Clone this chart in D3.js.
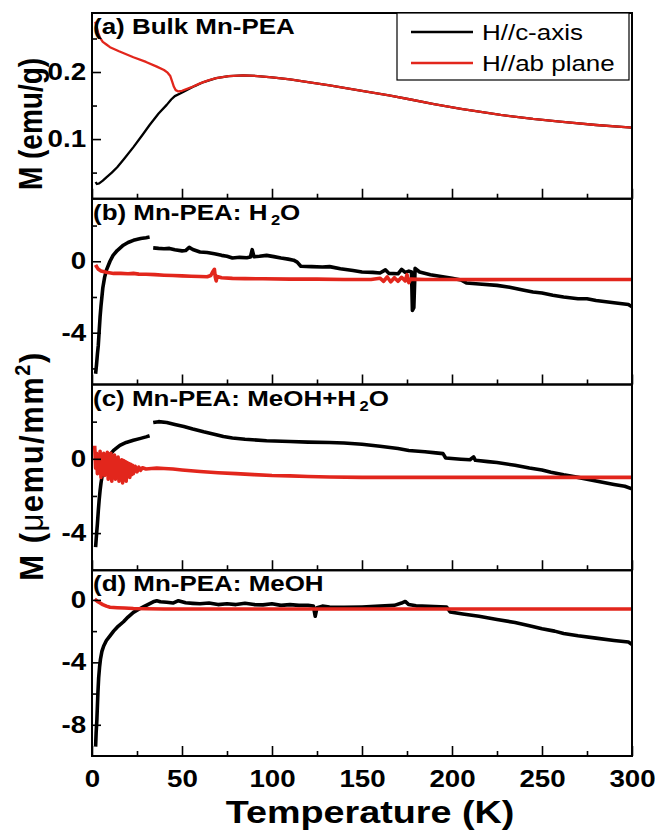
<!DOCTYPE html>
<html>
<head>
<meta charset="utf-8">
<script src="https://cdn.jsdelivr.net/npm/d3@7"></script>
<style>
  body { margin: 0; background: #fff; }
  svg { display: block; font-family: "Liberation Sans", Arial, sans-serif; }
</style>
</head>
<body>
<svg id="chart" width="655" height="836"></svg>
<script>
// ---- data: [T (K), M] ----
const bulkC = [[2,0.036],[2.7,0.033],[4,0.034],[6,0.038],[8,0.043],[11,0.050],[14,0.058],[18,0.071],[23,0.088],[28,0.106],[32,0.121],[37,0.138],[41.5,0.151],[44,0.159],[46,0.164],[49,0.168],[52.5,0.173],[57,0.179],[62,0.185],[69,0.191],[76,0.194],[84,0.195],[92,0.194],[100,0.192],[110,0.189],[120,0.185],[132,0.180],[150,0.172],[165,0.165],[177,0.159],[190,0.152],[205,0.145],[227,0.136],[245,0.130],[260,0.126],[280,0.121],[300,0.117]];
const bulkAB = [[1.8,0.275],[2.5,0.268],[3.5,0.258],[4.5,0.251],[6,0.245],[8,0.241],[10,0.237],[15,0.231],[23,0.222],[30,0.215],[36,0.208],[40,0.203],[42,0.199],[43.5,0.194],[44.5,0.186],[45.5,0.178],[46.5,0.173],[48,0.171],[50,0.172],[55,0.177],[60,0.183],[65,0.188],[69,0.191],[76,0.194],[84,0.195],[92,0.194],[100,0.192],[110,0.189],[120,0.185],[132,0.180],[150,0.172],[165,0.165],[177,0.159],[190,0.152],[205,0.145],[227,0.136],[245,0.130],[260,0.126],[280,0.121],[300,0.117]];

const h2oC = [[2,-6.3],[2.5,-5.8],[3,-5.2],[3.5,-4.7],[4,-3.9],[4.5,-3.1],[5,-2.5],[6,-1.5],[7,-0.9],[8,-0.5],[10,0.0],[11.7,0.33],[14,0.6],[17.4,0.9],[20,1.05],[23,1.17],[27,1.27],[30,1.32],[32,1.36],[33,null],
  [34,0.75],[37,0.72],[40,0.70],[43,0.72],[46,0.64],[50,0.58],[52,0.6],[54,0.78],[56,0.66],[60,0.52],[64,0.49],[68,0.42],[72,0.33],[75,0.28],[78,0.18],[82,0.22],[86,0.20],[88,0.24],[89,0.65],[90,0.25],[93,0.28],[97,0.33],[101,0.26],[105,0.18],[109,0.12],[112,0.06],[114,-0.05],[116,-0.28],[122,-0.3],[128,-0.32],[132,-0.30],[138,-0.42],[145,-0.52],[150,-0.6],[156,-0.62],[160,-0.66],[163,-0.48],[165,-0.68],[170,-0.7],[172,-0.45],[174,-0.62],[176,-0.55],[177.5,-0.6],[178,-2.75],[178.8,-2.6],[179.5,-0.4],[182,-0.6],[188,-0.75],[194,-0.85],[200,-0.95],[205,-1.05],[208,-1.22],[215,-1.27],[225,-1.35],[232,-1.45],[240,-1.62],[245,-1.72],[250,-1.78],[256,-1.9],[262,-2.0],[270,-2.1],[275,-2.1],[280,-2.2],[290,-2.32],[298,-2.42],[300,-2.55]];
const h2oAB = [[2,-0.2],[2.5,-0.3],[3.5,-0.45],[5,-0.55],[8,-0.62],[12,-0.68],[16,-0.68],[20,-0.7],[23,-0.68],[26,-0.72],[30,-0.73],[35,-0.75],[40,-0.78],[45,-0.8],[50,-0.82],[55,-0.84],[60,-0.85],[64,-0.87],[66,-0.8],[67,-0.6],[68,-0.45],[68.5,-0.9],[69,-1.1],[69.5,-0.85],[72,-0.92],[78,-0.96],[85,-0.97],[95,-0.98],[110,-1.0],[125,-1.0],[140,-1.02],[155,-1.02],[160,-0.95],[162,-1.12],[164,-0.88],[166,-1.15],[168,-0.92],[170,-1.12],[172,-0.9],[174,-1.1],[175,-0.75],[176,-1.2],[177,-1.0],[185,-1.02],[200,-1.02],[220,-1.03],[240,-1.02],[260,-1.02],[280,-1.02],[300,-1.02]];

const mixC = [[2,-4.75],[2.5,-4.1],[3,-3.5],[3.5,-2.8],[4,-2.2],[4.5,-1.7],[5,-1.3],[6,-0.7],[7,-0.35],[8,-0.1],[10,0.22],[12,0.45],[15.5,0.72],[19,0.88],[23,1.0],[27,1.1],[30,1.18],[32,1.24],[33,null],
  [34,1.95],[37,2.0],[41.5,1.95],[46,1.85],[51,1.74],[56,1.6],[62,1.45],[69,1.3],[73,1.2],[78,1.12],[85,1.05],[97,0.97],[110,0.93],[120,0.9],[132,0.88],[140,0.85],[150,0.78],[160,0.68],[170,0.55],[176,0.45],[185,0.38],[191,0.32],[195,0.28],[196.5,0.04],[205,-0.02],[210,-0.05],[212,0.1],[213,-0.08],[220,-0.15],[225,-0.2],[235,-0.35],[243,-0.5],[250,-0.6],[255,-0.72],[262,-0.86],[270,-1.0],[280,-1.2],[290,-1.38],[296,-1.48],[300,-1.62]];
const mixAB = [[1.5,0.7],[2,-0.5],[2.5,0.3],[3,-0.8],[3.5,0.2],[4,-0.6],[4.5,0.4],[5,-1.0],[5.5,0.1],[6,-0.7],[6.5,0.3],[7,-0.9],[7.5,0.2],[8,-0.8],[8.5,0.35],[9,-1.1],[9.5,0.15],[10,-0.75],[10.5,0.3],[11,-1.2],[11.5,0.1],[12,-0.9],[12.5,0.2],[13,-1.1],[13.5,0.0],[14,-1.0],[14.5,0.1],[15,-1.2],[15.5,-0.1],[16,-1.0],[16.5,-0.05],[17,-1.3],[17.5,-0.1],[18,-1.1],[18.5,-0.15],[19,-1.2],[19.5,-0.2],[20,-0.95],[20.5,-0.25],[21,-1.0],[21.5,-0.3],[22,-0.85],[22.5,-0.35],[23,-0.8],[24,-0.4],[25,-0.7],[26,-0.45],[27,-0.62],[28,-0.48],[30,-0.55],[33,-0.52],[36,-0.5],[40,-0.52],[45,-0.55],[50,-0.6],[60,-0.68],[70,-0.75],[80,-0.8],[90,-0.85],[100,-0.9],[110,-0.92],[120,-0.95],[132,-0.98],[150,-1.0],[200,-1.0],[250,-1.0],[300,-1.0]];

const meohC = [[2,-9.4],[2.3,-8.5],[2.7,-7.7],[3,-6.8],[3.3,-5.9],[3.7,-5.0],[4.2,-4.3],[4.7,-3.8],[5.5,-3.3],[6.5,-2.95],[8,-2.6],[10,-2.3],[12,-2.0],[14,-1.75],[17.5,-1.4],[20,-1.1],[23,-0.8],[26,-0.6],[28.5,-0.45],[31,-0.3],[34,-0.12],[36,-0.05],[38,-0.12],[41.5,-0.15],[45,-0.2],[48,-0.05],[52,-0.18],[56,-0.22],[60,-0.25],[65,-0.2],[70,-0.3],[75,-0.25],[80,-0.3],[85,-0.22],[90,-0.3],[95,-0.32],[100,-0.25],[105,-0.35],[110,-0.3],[115,-0.35],[120,-0.35],[123,-0.4],[124,-1.05],[125,-0.5],[128,-0.4],[132,-0.45],[140,-0.48],[150,-0.45],[160,-0.4],[168,-0.35],[172,-0.2],[174,-0.1],[176,-0.3],[180,-0.38],[190,-0.42],[197,-0.45],[199,-0.78],[206,-0.9],[215,-1.05],[225,-1.25],[235,-1.45],[243,-1.65],[250,-1.85],[257,-2.0],[262,-2.15],[270,-2.3],[280,-2.45],[290,-2.6],[298,-2.7],[300,-2.85]];
const meohAB = [[1.5,0.05],[2,0],[3,-0.1],[4.5,-0.2],[6,-0.3],[8,-0.4],[10,-0.47],[14,-0.5],[18,-0.52],[23,-0.55],[30,-0.57],[40,-0.58],[60,-0.58],[100,-0.58],[150,-0.58],[200,-0.58],[250,-0.58],[300,-0.58]];

const panelLabels = ['(a) Bulk Mn-PEA', '(b) Mn-PEA: H', '(c) Mn-PEA: MeOH+H', '(d) Mn-PEA: MeOH'];
const legendLabels = ['H//c-axis', 'H//ab plane'];
const xMajor = [0, 50, 100, 150, 200, 250, 300];
const xMinor = [25, 75, 125, 175, 225, 275];

// ---- layout ----
const plotLeft = 92, plotRight = 632, plotTop = 13, plotBottom = 756;
const sx = 1.18;            // the original figure is stretched sideways
const red = '#e2261c';
const panelH = (plotBottom - plotTop) / 4;
const tickFont = 23.5;

const panels = [
  { domain: [0.011, 0.288], major: [0.1, 0.2], minor: [0.05, 0.15, 0.25], fmt: d3.format('.1f'), c: bulkC, ab: bulkAB, lw: 2.3, sub: false },
  { domain: [-6.9, 3.5], major: [-4, 0], minor: [-6, -2, 2], fmt: d => String(d), c: h2oC, ab: h2oAB, lw: 3.6, sub: true },
  { domain: [-6, 4], major: [-4, 0], minor: [-2, 2], fmt: d => String(d), c: mixC, ab: mixAB, lw: 3.6, sub: true },
  { domain: [-10, 1.9], major: [-8, -4, 0], minor: [-6, -2], fmt: d => String(d), c: meohC, ab: meohAB, lw: 3.6, sub: false }
];

const svg = d3.select('#chart');
const x = d3.scaleLinear().domain([0, 300]).range([plotLeft, plotRight]);

panels.forEach((p, i) => {
  const y0 = plotTop + i * panelH, y1 = y0 + panelH;
  const y = d3.scaleLinear().domain(p.domain).range([y1, y0]);
  const g = svg.append('g');

  g.append('clipPath').attr('id', 'clip' + i)
    .append('rect').attr('x', plotLeft).attr('y', y0).attr('width', plotRight - plotLeft).attr('height', panelH);

  const line = d3.line()
    .defined(d => d[1] !== null)
    .x(d => x(d[0]))
    .y(d => y(d[1]));

  const plot = g.append('g').attr('clip-path', `url(#clip${i})`);
  plot.append('path').datum(p.c)
    .attr('d', line).attr('fill', 'none').attr('stroke', '#000')
    .attr('stroke-width', p.lw).attr('stroke-linejoin', 'round');
  plot.append('path').datum(p.ab)
    .attr('d', line).attr('fill', 'none').attr('stroke', red)
    .attr('stroke-width', p.lw).attr('stroke-linejoin', 'round');

  // y axis, ticks pointing inward
  const ya = g.append('g').attr('transform', `translate(${plotLeft},0)`)
    .call(d3.axisLeft(y).tickValues(p.major).tickSizeInner(-9).tickSizeOuter(0).tickPadding(5).tickFormat(p.fmt));
  ya.append('g').call(d3.axisLeft(y).tickValues(p.minor).tickSizeInner(-5).tickSizeOuter(0).tickFormat(''));
  ya.selectAll('.domain').remove();
  ya.selectAll('line').attr('stroke-width', 1.6);
  ya.selectAll('text')
    .attr('transform', `scale(${sx},1)`)
    .attr('font-size', tickFont).attr('font-weight', 'bold').attr('fill', '#000');

  // x axis on the bottom of each panel
  const xa = g.append('g').attr('transform', `translate(0,${y1})`)
    .call(d3.axisBottom(x).tickValues(xMajor).tickSizeInner(-10).tickSizeOuter(0).tickPadding(14)
      .tickFormat(i === 3 ? d3.format('d') : ''));
  xa.append('g').call(d3.axisBottom(x).tickValues(xMinor).tickSizeInner(-5).tickSizeOuter(0).tickFormat(''));
  xa.selectAll('.domain').remove();
  xa.selectAll('line').attr('stroke-width', 1.6);
  xa.selectAll('text')
    .attr('transform', `scale(${sx},1)`)
    .attr('font-size', tickFont).attr('font-weight', 'bold').attr('fill', '#000');

  g.append('rect')
    .attr('x', plotLeft).attr('y', y0).attr('width', plotRight - plotLeft).attr('height', panelH)
    .attr('fill', 'none').attr('stroke', '#000').attr('stroke-width', 2);

  // panel caption
  const t = g.append('text')
    .attr('transform', `translate(${plotLeft + 1},${y0 + 21}) scale(${sx},1)`)
    .attr('font-size', 22).attr('font-weight', 'bold')
    .text(panelLabels[i]);
  if (p.sub) {
    t.append('tspan').attr('dx', 3).attr('dy', 5).attr('font-size', 14).text('2');
    t.append('tspan').attr('dy', -5).text('O');
  }
});

// legend in panel (a)
const leg = svg.append('g');
leg.append('rect').attr('x', 397).attr('y', plotTop).attr('width', 232).attr('height', 67)
  .attr('fill', '#fff').attr('stroke', '#000').attr('stroke-width', 1.2);
[['#000', 32], [red, 63]].forEach(([col, ly], k) => {
  leg.append('line').attr('x1', 411).attr('x2', 473).attr('y1', ly).attr('y2', ly)
    .attr('stroke', col).attr('stroke-width', 2.5);
  leg.append('text').attr('transform', `translate(482,${ly + 8}) scale(${sx},1)`)
    .attr('font-size', 22).text(legendLabels[k]);
});

// axis titles
svg.append('text')
  .attr('transform', `translate(370,823) scale(${sx},1)`)
  .attr('text-anchor', 'middle').attr('font-size', 32).attr('font-weight', 'bold')
  .text('Temperature (K)');

svg.append('text')
  .attr('transform', `translate(42,124) rotate(-90) scale(1,${sx})`)
  .attr('text-anchor', 'middle').attr('font-size', 28).attr('font-weight', 'bold')
  .text('M (emu/g)');

const yt = svg.append('text')
  .attr('transform', `translate(43,466) rotate(-90) scale(1,1.1)`)
  .attr('text-anchor', 'middle').attr('font-size', 31).attr('font-weight', 'bold')
  .attr('letter-spacing', 1.5);
yt.append('tspan').text('M (');
yt.append('tspan').attr('font-weight', 'normal').text('μ');
yt.append('tspan').text('emu/mm');
yt.append('tspan').attr('dy', -12).attr('font-size', 20).text('2');
yt.append('tspan').attr('dy', 12).text(')');
</script>
</body>
</html>
